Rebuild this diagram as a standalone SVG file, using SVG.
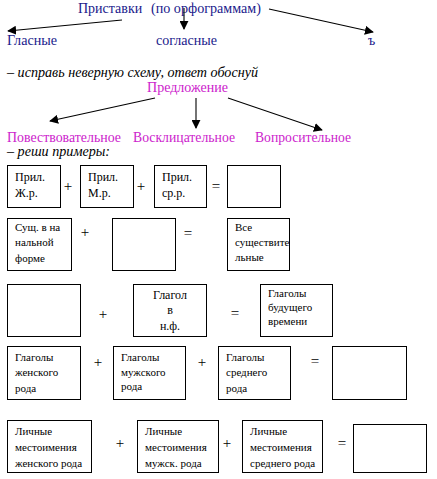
<svg xmlns="http://www.w3.org/2000/svg" width="437" height="479" viewBox="0 0 437 479">
<defs>
<marker id="ah" viewBox="0 0 10 10" refX="9" refY="5" markerWidth="9" markerHeight="9" markerUnits="userSpaceOnUse" orient="auto">
<path d="M0,0 L10,5 L0,10 z" fill="#000"/>
</marker>
</defs>
<style>
text{font-family:"Times New Roman",Tinos,"Liberation Serif","Noto Serif","DejaVu Serif",serif;}
.blue{fill:#1a1a8c;font-size:14px;}
.mag{fill:#cc22cc;font-size:14px;}
.it{fill:#000;font-size:14px;font-style:italic;}
.box{fill:#fff;stroke:#000;stroke-width:1;}
.bt{fill:#000;font-size:12px;}
.bs{fill:#000;font-size:11px;}
.op{fill:#000;font-size:15px;text-anchor:middle;}
.cn{stroke:#000;stroke-width:1.1;fill:none;marker-end:url(#ah);}
</style>
<rect width="437" height="479" fill="#fff"/>

<g id="pristavki"><text class="blue" x="78" y="13">Приставки</text><text class="blue" x="151" y="13" textLength="110" lengthAdjust="spacingAndGlyphs">(по орфограммам)</text></g>
<g id="glasnye"><text class="blue" x="7" y="45" textLength="50" lengthAdjust="spacingAndGlyphs">Гласные</text></g>
<g id="soglasnye"><text class="blue" x="156" y="45" textLength="61" lengthAdjust="spacingAndGlyphs">согласные</text></g>
<g id="tverdy"><text class="blue" x="368" y="45">ъ</text></g>

<g id="task1"><text class="it" x="7" y="77" textLength="251" lengthAdjust="spacingAndGlyphs">– исправь неверную схему, ответ обоснуй</text></g>

<g id="predlozhenie"><text class="mag" x="147" y="92" textLength="81" lengthAdjust="spacingAndGlyphs">Предложение</text></g>
<g id="povest"><text class="mag" x="7" y="142" textLength="114" lengthAdjust="spacingAndGlyphs">Повествовательное</text></g>
<g id="voskl"><text class="mag" x="133" y="142" textLength="102" lengthAdjust="spacingAndGlyphs">Восклицательное</text></g>
<g id="vopros"><text class="mag" x="255" y="142" textLength="96" lengthAdjust="spacingAndGlyphs">Вопросительное</text></g>

<g id="task2"><text class="it" x="7" y="156" textLength="103" lengthAdjust="spacingAndGlyphs">– реши примеры:</text></g>

<g id="connectors">
<line class="cn" x1="122" y1="20" x2="8" y2="31"/>
<line class="cn" x1="184" y1="8" x2="184" y2="29"/>
<line class="cn" x1="269" y1="9" x2="373" y2="32"/>
<line class="cn" x1="155" y1="98" x2="50" y2="121"/>
<line class="cn" x1="196" y1="98" x2="196" y2="128"/>
<line class="cn" x1="228" y1="98" x2="322" y2="130"/>
</g>

<g id="r1b1"><rect class="box" x="7.5" y="165.5" width="53" height="42"/><text class="bt" x="15" y="181">Прил.</text><text class="bt" x="15" y="197">Ж.р.</text></g>
<g id="r1b2"><rect class="box" x="80.5" y="165.5" width="53" height="42"/><text class="bt" x="88" y="181">Прил.</text><text class="bt" x="88" y="197">М.р.</text></g>
<g id="r1b3"><rect class="box" x="154.5" y="165.5" width="52" height="42"/><text class="bt" x="162" y="181">Прил.</text><text class="bt" x="162" y="197">ср.р.</text></g>
<g id="r1b4"><rect class="box" x="227.5" y="165.5" width="53" height="42"/></g>

<g id="r2b1"><rect class="box" x="7.5" y="218.5" width="64" height="52"/><text class="bs" x="15" y="231">Сущ. в на</text><text class="bs" x="15" y="246">нальной</text><text class="bs" x="15" y="262">форме</text></g>
<g id="r2b2"><rect class="box" x="112.5" y="218.5" width="63" height="52"/></g>
<g id="r2b3"><rect class="box" x="227.5" y="218.5" width="62" height="52"/><text class="bs" x="235" y="231">Все</text><text class="bs" x="235" y="246">существите</text><text class="bs" x="235" y="261">льные</text></g>

<g id="r3b1"><rect class="box" x="7.5" y="284.5" width="73" height="52"/></g>
<g id="r3b2"><rect class="box" x="133.5" y="284.5" width="73" height="52"/><text class="bt" x="170" y="299" text-anchor="middle">Глагол</text><text class="bt" x="170" y="314" text-anchor="middle">в</text><text class="bt" x="170" y="330" text-anchor="middle">н.ф.</text></g>
<g id="r3b3"><rect class="box" x="260.5" y="284.5" width="72" height="52"/><text class="bs" x="268" y="297">Глаголы</text><text class="bs" x="268" y="311">будущего</text><text class="bs" x="268" y="325">времени</text></g>

<g id="r4b1"><rect class="box" x="7.5" y="346.5" width="73" height="53"/><text class="bs" x="15" y="361">Глаголы</text><text class="bs" x="15" y="376">женского</text><text class="bs" x="15" y="392">рода</text></g>
<g id="r4b2"><rect class="box" x="113.5" y="346.5" width="72" height="53"/><text class="bs" x="121" y="361">Глаголы</text><text class="bs" x="121" y="376">мужского</text><text class="bs" x="121" y="390">рода</text></g>
<g id="r4b3"><rect class="box" x="218.5" y="346.5" width="72" height="53"/><text class="bs" x="226" y="361">Глаголы</text><text class="bs" x="226" y="376">среднего</text><text class="bs" x="226" y="392">рода</text></g>
<g id="r4b4"><rect class="box" x="332.5" y="346.5" width="74" height="53"/></g>

<g id="r5b1"><rect class="box" x="7.5" y="420.5" width="84" height="52"/><text class="bs" x="15" y="435">Личные</text><text class="bs" x="15" y="451">местоимения</text><text class="bs" x="15" y="467">женского рода</text></g>
<g id="r5b2"><rect class="box" x="137.5" y="420.5" width="81" height="52"/><text class="bs" x="145" y="435">Личные</text><text class="bs" x="145" y="451">местоимения</text><text class="bs" x="145" y="467">мужск. рода</text></g>
<g id="r5b3"><rect class="box" x="242.5" y="420.5" width="80" height="52"/><text class="bs" x="250" y="435">Личные</text><text class="bs" x="250" y="451">местоимения</text><text class="bs" x="250" y="467">среднего рода</text></g>
<g id="r5b4"><rect class="box" x="353.5" y="424.5" width="73" height="48"/></g>

<g id="operators">
<text class="op" x="68" y="191">+</text>
<text class="op" x="141" y="191">+</text>
<text class="op" x="216" y="191">=</text>
<text class="op" x="85" y="237">+</text>
<text class="op" x="188" y="238">=</text>
<text class="op" x="103" y="319">+</text>
<text class="op" x="235" y="318">=</text>
<text class="op" x="98" y="367">+</text>
<text class="op" x="202" y="367">+</text>
<text class="op" x="315" y="366">=</text>
<text class="op" x="120" y="448">+</text>
<text class="op" x="227" y="448">+</text>
<text class="op" x="342" y="448">=</text>
</g>
</svg>
